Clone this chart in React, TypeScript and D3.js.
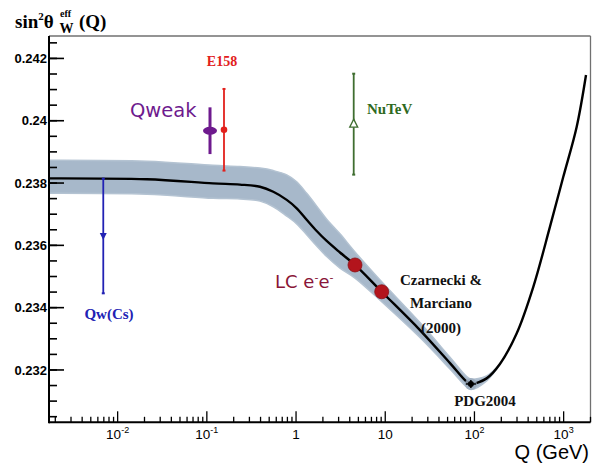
import React from "react";
import * as d3 from "d3";

// Running of sin^2 theta_W (Czarnecki & Marciano 2000)
const curveQ = [0.0017, 0.0212, 0.117, 0.235, 0.394, 0.556, 0.786, 1.017, 1.316, 1.704, 2.206, 3.109, 4.58, 9.125, 24.5, 53.2, 81.9, 91.5, 137, 193, 298, 457, 703, 991, 1401, 1781];
const curveV = [0.23815, 0.23812, 0.23799, 0.23795, 0.23788, 0.23772, 0.23746, 0.23719, 0.23682, 0.23646, 0.23614, 0.23577, 0.23537, 0.23451, 0.23328, 0.23222, 0.23162, 0.23155, 0.23173, 0.23219, 0.23318, 0.23467, 0.2366, 0.2382, 0.23981, 0.24147];
// theory uncertainty band (upper / lower half widths), defined for the first points
const bandUp = [0.00058, 0.00058, 0.00058, 0.00058, 0.0006, 0.00068, 0.0008, 0.00085, 0.00085, 0.0008, 0.0007, 0.0006, 0.00042, 0.00032, 0.00024, 0.00019, 0.00017, 0.00016, 0.00008, 0];
const bandDown = [0.00048, 0.00048, 0.00048, 0.00046, 0.00046, 0.00048, 0.00052, 0.0005, 0.00048, 0.00048, 0.0005, 0.0005, 0.00042, 0.00032, 0.00024, 0.00019, 0.00017, 0.00018, 0.00008, 0];

// measurements
const qwcsQ = 0.0069, qwcsV = 0.2363, qwcsErr = 0.00184;
const e158Q = 0.1557, e158V = 0.23971, e158Err = 0.00131;
const qweakQ = 0.1085, qweakV = 0.23968, qweakErr = 0.00075;
const nutevQ = 4.43, nutevV = 0.23989, nutevErr = 0.00162;
const pdgQ = 91.19, pdgV = 0.23155;
const lcQ = [4.58, 9.125];
const lcV = [0.23537, 0.23451];

const xTickValues = [0.01, 0.1, 1, 10, 100, 1000];
const xTickBases = ["10", "10", "1", "10", "10", "10"];
const xTickExps = ["-2", "-1", "", "", "2", "3"];
const yTickValues = [0.232, 0.234, 0.236, 0.238, 0.24, 0.242];
const yTickLabels = ["0.232", "0.234", "0.236", "0.238", "0.24", "0.242"];

const X0 = 49, X1 = 590.5, Y0 = 422.3, Y1 = 36;

export default function App() {
  const x = d3.scaleLog().domain([0.0017, 2000]).range([X0, X1]);
  const y = d3.scaleLinear().domain([0.23032, 0.24272]).range([Y0, Y1]);

  const pts = curveQ.map((q, i) => ({ q, v: curveV[i] }));
  const bandPts = bandUp.map((u, i) => ({ q: curveQ[i], v: curveV[i], u, d: bandDown[i] }));

  const line = d3
    .line<{ q: number; v: number }>()
    .x((d) => x(d.q))
    .y((d) => y(d.v))
    .curve(d3.curveCatmullRom.alpha(0.5));
  const area = d3
    .area<{ q: number; v: number; u: number; d: number }>()
    .x((d) => x(d.q))
    .y0((d) => y(d.v - d.d))
    .y1((d) => y(d.v + d.u))
    .curve(d3.curveCatmullRom.alpha(0.5));

  // minor x ticks
  const xMinor: number[] = [];
  for (let k = -3; k <= 3; k++) {
    for (let m = 1; m <= 9; m++) {
      const v = m * Math.pow(10, k);
      if (v >= 0.0017 && v <= 2000 && m !== 1) xMinor.push(v);
    }
  }
  const yMinor = d3.range(0, 26).map((i) => 0.2305 + i * 0.0005).filter((v) => v < 0.2427);

  const serif = "'Liberation Serif', 'DejaVu Serif', serif";
  const sans = "'Liberation Sans', Arial, sans-serif";
  const comic = "'DejaVu Sans', sans-serif";

  const errBar = (q: number, v: number, e: number, color: string, w: number) => (
    <g>
      <line x1={x(q)} x2={x(q)} y1={y(v + e)} y2={y(v - e)} stroke={color} strokeWidth={w} />
      <line x1={x(q) - 1.5} x2={x(q) + 1.5} y1={y(v + e)} y2={y(v + e)} stroke={color} strokeWidth={2} />
      <line x1={x(q) - 1.5} x2={x(q) + 1.5} y1={y(v - e)} y2={y(v - e)} stroke={color} strokeWidth={2} />
    </g>
  );

  return (
    <svg width={602} height={464} style={{ position: "absolute", left: 0, top: 0, background: "#fff" }}>
      <rect width={602} height={464} fill="#fff" />
      {/* band */}
      <path d={area(bandPts) || ""} fill="#a7b8ca" stroke="#b4c3d2" strokeWidth={1.5} />
      {/* curve */}
      <path d={line(pts) || ""} fill="none" stroke="#000" strokeWidth={2.4} />

      {/* frame */}
      <line x1={X0} x2={X1} y1={Y1} y2={Y1} stroke="#707070" strokeWidth={1.3} />
      <line x1={X1} x2={X1} y1={Y1} y2={Y0} stroke="#707070" strokeWidth={1.3} />
      <line x1={X0} x2={X1} y1={Y0} y2={Y0} stroke="#000" strokeWidth={2} />
      <line x1={X0} x2={X0} y1={Y1} y2={Y0 + 1} stroke="#000" strokeWidth={2} />

      {/* y ticks */}
      {yMinor.map((v, i) => (
        <line key={"ym" + i} x1={X0} x2={X0 + 8} y1={y(v)} y2={y(v)} stroke="#000" strokeWidth={1.6} />
      ))}
      {yTickValues.map((v, i) => (
        <g key={"yt" + i}>
          <line x1={X0} x2={X0 + 15} y1={y(v)} y2={y(v)} stroke="#000" strokeWidth={1.6} />
          <text x={47} y={y(v)} dy="0.36em" textAnchor="end" fontFamily={sans} fontSize={13} fontWeight="bold">
            {yTickLabels[i]}
          </text>
        </g>
      ))}

      {/* x ticks */}
      {xMinor.map((v, i) => (
        <line key={"xm" + i} x1={x(v)} x2={x(v)} y1={Y0} y2={Y0 - 5.5} stroke="#000" strokeWidth={1.3} />
      ))}
      {xTickValues.map((v, i) => (
        <g key={"xt" + i}>
          <line x1={x(v)} x2={x(v)} y1={Y0} y2={Y0 - 11} stroke="#000" strokeWidth={1.3} />
          <text x={x(v)} y={439} textAnchor="middle" fontFamily={sans} fontSize={13.5}>
            {xTickBases[i]}
            {xTickExps[i] ? (
              <tspan dy={-6} fontSize={9}>
                {xTickExps[i]}
              </tspan>
            ) : null}
          </text>
        </g>
      ))}
      <text x={589} y={459} textAnchor="end" fontFamily={sans} fontSize={20}>
        Q (GeV)
      </text>

      {/* title */}
      <text x={15} y={28} fontFamily={serif} fontWeight="bold" fontSize={19}>
        sin
        <tspan dy={-8} fontSize={11}>2</tspan>
        <tspan dy={8}>θ</tspan>
      </text>
      <text x={60} y={17} fontFamily={serif} fontWeight="bold" fontSize={10}>eff</text>
      <text x={59.5} y={33} fontFamily={serif} fontWeight="bold" fontSize={14}>W</text>
      <text x={79} y={28} fontFamily={serif} fontWeight="bold" fontSize={19}>(Q)</text>

      {/* Qw(Cs) */}
      {errBar(qwcsQ, qwcsV, qwcsErr, "#2222b4", 1.8)}
      <path
        d={`M${x(qwcsQ) - 3.5},${y(qwcsV) - 3} L${x(qwcsQ) + 3.5},${y(qwcsV) - 3} L${x(qwcsQ)},${y(qwcsV) + 4} Z`}
        fill="#2222b4"
      />
      <text x={109} y={319} textAnchor="middle" fontFamily={serif} fontWeight="bold" fontSize={15} fill="#2222b4">
        Qw(Cs)
      </text>

      {/* Qweak */}
      <line x1={x(qweakQ)} x2={x(qweakQ)} y1={y(qweakV + qweakErr)} y2={y(qweakV - qweakErr)} stroke="#6e1a8e" strokeWidth={3} />
      <ellipse cx={x(qweakQ)} cy={y(qweakV)} rx={7} ry={4} fill="#6e1a8e" />
      <text x={130} y={117} fontFamily={comic} fontSize={19.5} fill="#6e1a8e">
        Qweak
      </text>

      {/* E158 */}
      {errBar(e158Q, e158V, e158Err, "#e2201c", 1.8)}
      <circle cx={x(e158Q)} cy={y(e158V)} r={3.3} fill="#e2201c" />
      <text x={222} y={66} textAnchor="middle" fontFamily={serif} fontWeight="bold" fontSize={14} fill="#e2201c">
        E158
      </text>

      {/* NuTeV */}
      {errBar(nutevQ, nutevV, nutevErr, "#3f6e30", 1.8)}
      <path
        d={`M${x(nutevQ)},${y(nutevV) - 5} L${x(nutevQ) + 4},${y(nutevV) + 3} L${x(nutevQ) - 4},${y(nutevV) + 3} Z`}
        fill="#fff"
        stroke="#3f6e30"
        strokeWidth={1.3}
      />
      <text x={367} y={114} fontFamily={serif} fontWeight="bold" fontSize={15} fill="#2f6a1e">
        NuTeV
      </text>

      {/* LC e-e- */}
      {lcQ.map((q, i) => (
        <circle key={"lc" + i} cx={x(q)} cy={y(lcV[i])} r={7} fill="#b3141c" stroke="#8c0f14" strokeWidth={0.8} />
      ))}
      <text x={275} y={288} fontFamily={comic} fontSize={18} fill="#8a1538">
        LC e<tspan dy={-7} fontSize={11}>-</tspan>
        <tspan dy={7}>e</tspan>
        <tspan dy={-7} fontSize={11}>-</tspan>
      </text>

      {/* Czarnecki & Marciano */}
      <g fontFamily={serif} fontWeight="bold" fontSize={15} textAnchor="middle" fill="#111">
        <text x={441} y={285}>Czarnecki &amp;</text>
        <text x={441} y={308}>Marciano</text>
        <text x={441} y={333}>(2000)</text>
      </g>

      {/* PDG2004 */}
      <circle cx={x(pdgQ)} cy={y(pdgV)} r={6} fill="#9aaabb" opacity={0.8} />
      <line x1={x(pdgQ) - 5} x2={x(pdgQ) + 5} y1={y(pdgV)} y2={y(pdgV)} stroke="#000" strokeWidth={1.5} />
      <line x1={x(pdgQ)} x2={x(pdgQ)} y1={y(pdgV) - 4} y2={y(pdgV) + 4} stroke="#000" strokeWidth={1.5} />
      <circle cx={x(pdgQ)} cy={y(pdgV)} r={3} fill="#000" />
      <text x={485} y={406} textAnchor="middle" fontFamily={serif} fontWeight="bold" fontSize={15} fill="#111">
        PDG2004
      </text>
    </svg>
  );
}
